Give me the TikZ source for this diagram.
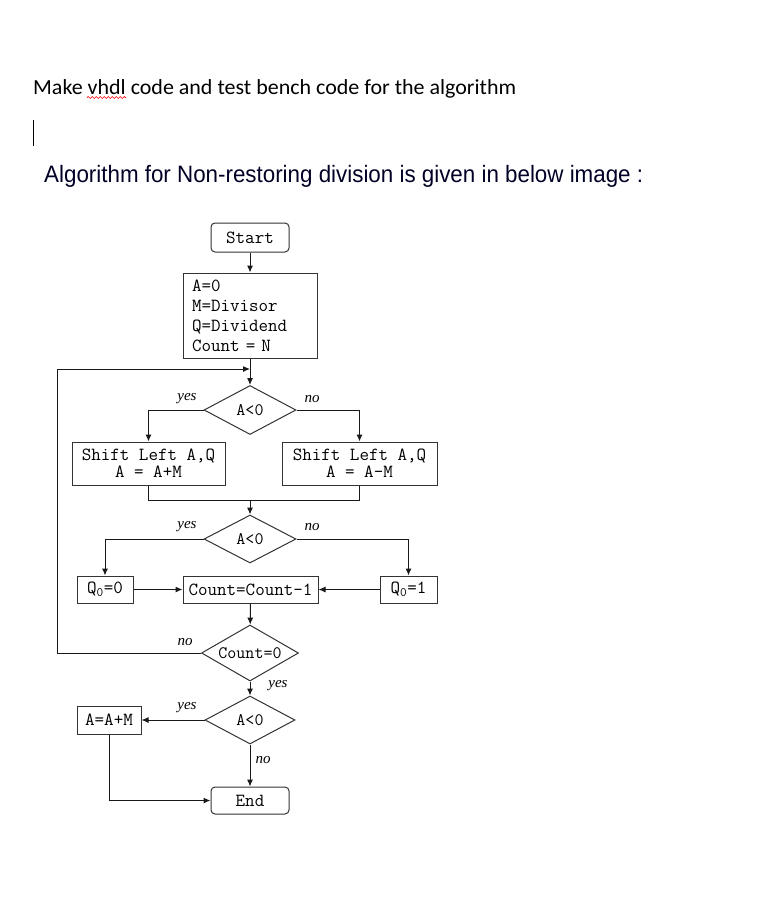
\documentclass[tikz,border=0pt]{standalone}
\usepackage{fontspec}
\usepackage{graphicx}
\usetikzlibrary{shapes.geometric,arrows.meta,decorations.pathmorphing}
\newfontfamily\calfam{Carlito}
\newfontfamily\arialfam{Liberation Sans}
\newfontfamily\seriffam{Liberation Serif}
\begin{document}
\begin{tikzpicture}[x=1pt,y=-1pt,
 box/.style={draw=black!80, line width=1pt, inner sep=0pt, font=\ttfamily\fontsize{18.5}{17}\selectfont, align=center},
 term/.style={box, rounded corners=4pt},
 dec/.style={draw=black!80, line width=1pt, diamond, aspect=2, inner sep=0pt, font=\ttfamily\fontsize{17.5}{17}\selectfont},
 conn/.style={draw=black!90, line width=1pt},
 arr/.style={conn, -{Latex[length=7pt,width=6pt]}},
 lbl/.style={font=\seriffam\itshape\fontsize{15}{15}\selectfont, inner sep=0pt}]
\fill[white] (0,0) rectangle (770,924);
\useasboundingbox (0,0) rectangle (770,924);

% header texts
\node[anchor=base west, inner sep=0pt, font=\calfam\fontsize{21.5}{24}\selectfont] (t1) at (33,94)
  {\resizebox{483pt}{\height}{Make vhdl code and test bench code for the algorithm}};
\draw[red, line width=0.7pt, decorate, decoration={snake, amplitude=1pt, segment length=4pt}] (87,97.5) -- (126,97.5);
\draw[black, line width=1pt] (33,120) -- (33,146);
\node[anchor=base west, inner sep=0pt, text=black!85!blue, font=\arialfam\fontsize{23.7}{26}\selectfont] (t2) at (44,182)
  {\resizebox{599pt}{\height}{Algorithm for Non-restoring division is given in below image :}};

% flowchart nodes
\node[term, minimum width=78pt, minimum height=29pt] (start) at (250,237.5) {Start};
\node[box, minimum height=85pt, text width=116pt, align=left, inner xsep=9pt, font=\ttfamily\fontsize{18.5}{20}\selectfont] (init) at (250,315.5)
  {A=0\\M=Divisor\\Q=Dividend\\Count = N};
\node[dec, minimum width=92pt, minimum height=49pt] (d1) at (250,410) {A<0};
\node[box, minimum width=153pt, minimum height=43pt] (L1) at (148.5,463.5) {Shift Left A,Q\\A = A+M};
\node[box, minimum width=155pt, minimum height=43pt] (R1) at (359.5,463.5) {Shift Left A,Q\\A = A-M};
\coordinate (m) at (250,500);
\node[dec, minimum width=92pt, minimum height=48pt] (d2) at (250,539) {A<0};
\node[box, minimum width=56pt, minimum height=27pt] (q0) at (105,589.5) {Q\textsubscript{0}=0};
\node[box, minimum width=135pt, minimum height=27pt] (cnt) at (250.5,589.5) {Count=Count-1};
\node[box, minimum width=57pt, minimum height=27pt] (q1) at (408.5,589.5) {Q\textsubscript{0}=1};
\node[dec, minimum width=97pt, minimum height=56pt] (d3) at (250,653) {Count=0};
\node[dec, minimum width=90pt, minimum height=48pt] (d4) at (250,720) {A<0};
\node[box, minimum width=64pt, minimum height=28pt] (aam) at (109,720) {A=A+M};
\node[term, minimum width=78pt, minimum height=27pt] (end) at (250,800.5) {End};
\coordinate (loopc) at (57,369);
\coordinate (loopj) at (250,369);

% labels
\node[lbl] (y1) at (187,399) {yes};
\node[lbl] (n1) at (312,399) {no};
\node[lbl] (y2) at (187,527) {yes};
\node[lbl] (n2) at (312,527) {no};
\node[lbl] (n3) at (185,642) {no};
\node[lbl] (y3) at (278,686) {yes};
\node[lbl] (y4) at (187,708) {yes};
\node[lbl] (n4) at (263,760) {no};

% connectors
\draw[arr] (start) -- (init);
\draw[arr] (init) -- (d1);
\draw[arr] (d1.west) -| (L1.north);
\draw[arr] (d1.east) -| (R1.north);
\draw[conn] (L1.south) |- (m);
\draw[conn] (R1.south) |- (m);
\draw[arr] (m) -- (d2.north);
\draw[arr] (d2.west) -| (q0.north);
\draw[arr] (d2.east) -| (q1.north);
\draw[arr] (q0) -- (cnt);
\draw[arr] (q1) -- (cnt);
\draw[arr] (cnt) -- (d3);
\draw[conn] (d3.west) -| (loopc);
\draw[arr] (loopc) -- (loopj);
\draw[arr] (d3) -- (d4);
\draw[arr] (d4.west) -- (aam.east);
\draw[arr] (d4) -- (end);
\draw[arr] (aam.south) |- (end.west);
\end{tikzpicture}
\end{document}
